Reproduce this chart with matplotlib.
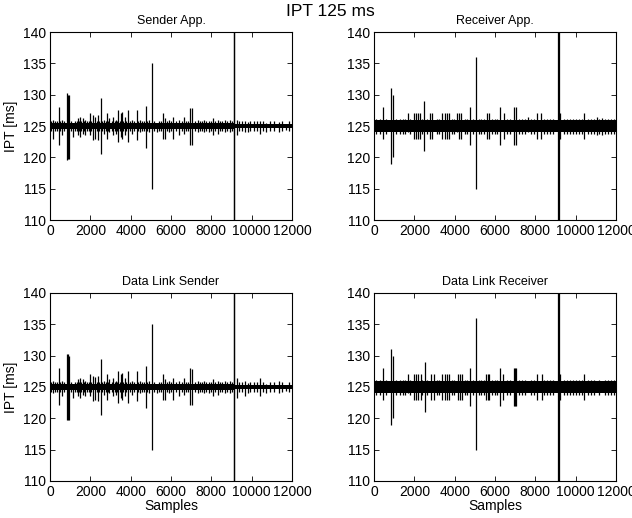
import matplotlib
matplotlib.use("Agg")
import matplotlib.pyplot as plt
import numpy as np

plt.rcParams['font.family'] = ['Liberation Sans', 'DejaVu Sans']

# ---------------- data ----------------
suptitle = "IPT 125 ms"
titles = ["Sender App.", "Receiver App.", "Data Link Sender", "Data Link Receiver"]
xticks = [0, 2000, 4000, 6000, 8000, 10000, 12000]
yticks = [110, 115, 120, 125, 130, 135, 140]

# Sender App. : spikes (sample, max, min)
sender_x = [150, 430, 600, 830, 880, 940, 1160, 1400, 1500, 1620, 1750, 1980, 2150, 2250, 2380,
            2520, 2700, 2820, 2950, 3140, 3260, 3390, 3500, 3560, 3700, 3880, 4050, 4300, 4450,
            4740, 4900, 5050, 5300, 5620, 5700, 5900, 6110, 6400, 6640, 6950, 7050, 7350, 7640,
            7900, 8100, 8350, 8700, 8950, 9120, 9140, 9250, 9670, 9800, 10410, 10700, 11370, 11700]
sender_hi = [126.0, 128.0, 126.0, 130.2, 130.0, 130.0, 125.5, 126.3, 126.5, 126.3, 126.0, 127.0, 126.8,
             126.5, 126.8, 129.5, 126.0, 127.0, 126.2, 126.5, 126.0, 127.5, 127.0, 127.3, 126.5, 127.5,
             126.0, 127.5, 126.0, 128.2, 126.0, 135.0, 125.5, 127.0, 126.3, 126.0, 126.5, 126.0, 126.5,
             127.8, 127.8, 126.0, 126.0, 125.8, 126.3, 126.0, 126.0, 126.0, 190.0, 190.0, 126.0, 125.8,
             125.6, 125.8, 125.5, 125.6, 125.3]
sender_lo = [123.0, 122.0, 123.5, 119.5, 119.7, 119.7, 123.2, 123.6, 123.2, 123.8, 123.6, 123.5, 122.7,
             123.0, 122.7, 120.5, 123.8, 123.0, 124.0, 123.5, 123.8, 122.5, 123.2, 123.0, 123.5, 122.5,
             123.8, 122.8, 124.0, 121.5, 124.0, 115.0, 124.0, 123.0, 123.0, 124.0, 123.0, 123.5, 123.8,
             122.0, 122.0, 124.0, 124.0, 124.0, 123.5, 123.8, 124.0, 124.0, 60.0, 60.0, 123.5, 124.0,
             124.0, 123.8, 124.0, 124.0, 124.3]

# Data Link Sender
dls_x = [150, 430, 600, 830, 880, 940, 1160, 1400, 1500, 1620, 1750, 1980, 2150, 2250, 2380,
         2520, 2700, 2820, 2950, 3140, 3260, 3390, 3500, 3560, 3700, 3880, 4050, 4300, 4450,
         4740, 4900, 5050, 5300, 5620, 5700, 5900, 6110, 6400, 6640, 6950, 7050, 7350, 7640,
         7900, 8100, 8350, 8700, 8950, 9120, 9140, 9250, 9670, 9800, 10410, 10700, 11370, 11700]
dls_hi = [126.0, 128.0, 126.0, 130.3, 130.2, 130.0, 125.5, 126.3, 126.5, 126.3, 126.0, 127.0, 126.8,
          126.6, 126.8, 129.5, 126.0, 127.0, 126.2, 126.5, 126.0, 127.6, 127.0, 127.3, 126.5, 127.5,
          126.0, 127.5, 126.0, 128.3, 126.0, 135.0, 125.5, 127.0, 126.3, 126.0, 126.5, 126.0, 126.5,
          128.0, 127.8, 126.0, 126.0, 125.8, 126.3, 126.0, 126.0, 126.0, 190.0, 190.0, 126.5, 126.0,
          125.6, 126.5, 125.5, 126.0, 125.3]
dls_lo = [124.0, 122.2, 123.5, 119.7, 119.8, 119.8, 123.2, 123.6, 123.2, 123.8, 123.6, 123.5, 122.7,
          123.0, 122.7, 120.5, 123.8, 123.0, 124.0, 123.5, 123.8, 122.5, 123.2, 123.0, 123.5, 122.5,
          123.8, 122.8, 124.0, 121.6, 124.0, 115.0, 124.0, 123.0, 123.0, 124.0, 123.0, 123.5, 123.8,
          122.2, 122.2, 124.0, 124.0, 124.0, 123.5, 123.8, 124.0, 124.0, 60.0, 60.0, 123.2, 123.5,
          124.0, 123.5, 124.0, 124.0, 124.3]

# small jitter around the sender baseline (sample positions)
sender_fuzz_x = [50, 250, 330, 520, 700, 1050, 1250, 1330, 1450, 1560, 1680, 1850, 1920, 2050, 2320,
                 2450, 2600, 2760, 2880, 3050, 3200, 3320, 3450, 3620, 3780, 3950, 4150, 4380, 4550,
                 4650, 4820, 5150, 5400, 5500, 5800, 6000, 6250, 6550, 6750, 6850, 7200, 7450, 7550,
                 7750, 8000, 8200, 8450, 8550, 8800, 9000, 9350, 9500, 9900, 10100, 10250, 10550,
                 10900, 11100, 11500, 11850]
sender_fuzz_hi = 125.8
sender_fuzz_lo = 124.2

# Receiver App.
receiver_x = [430, 843, 925, 1670, 1980, 2080, 2180, 2280, 2500, 2780, 2900, 3350, 3500, 3600, 3700,
              4100, 4200, 4300, 4760, 5050, 5600, 5700, 6250, 6450, 6950, 7050, 7650, 8070, 8280,
              9130, 9150, 9220, 10430, 11040, 11300]
receiver_hi = [128, 131, 130, 127, 127, 127, 127, 127, 129, 127, 127, 127, 127, 127, 127,
               127, 127, 127, 128, 136, 127, 127, 128, 127, 128, 128, 126.5, 127, 127,
               190, 190, 127, 127, 126.5, 126.3]
receiver_lo = [123, 119, 120, 124, 123, 123, 123, 123, 121, 123, 123, 123, 123, 123, 123,
               124, 123, 123, 122, 115, 123, 123, 122, 123, 122, 122, 124, 123, 123,
               60, 60, 123, 123, 123.5, 123.5]

# Data Link Receiver
dlr_x = [430, 843, 940, 1670, 1980, 2080, 2200, 2330, 2530, 2830, 2980, 3390, 3500, 3620, 3740,
         4150, 4250, 4350, 4760, 5040, 5550, 5640, 5720, 6250, 6410, 6930, 7000, 7060, 8070, 8310,
         9130, 9150, 9220, 10430]
dlr_hi = [128, 131, 130, 127, 127, 127, 127, 127, 129, 127, 127, 127, 127, 127, 127,
          127, 127, 127, 128, 136, 127, 127, 127, 128, 127, 128, 128, 128, 127, 127,
          190, 190, 127, 127]
dlr_lo = [123, 119, 120, 124, 123, 123, 123, 123, 121, 123, 123, 123, 123, 123, 123,
          123, 123, 123, 122, 115, 123, 123, 123, 122, 123, 122, 122, 122, 123, 123,
          60, 60, 123, 123]

# receiver baseline jitter (down-strokes below the band)
recv_fuzz_x = [100, 300, 600, 1100, 1300, 1450, 1550, 1800, 2400, 2650, 3100, 3200, 3850, 3950, 4500,
               4600, 4900, 5200, 5300, 5450, 5850, 6000, 6100, 6600, 6750, 7200, 7350, 7500, 7800,
               7950, 8450, 8600, 8750, 8900, 9400, 9550, 9700, 9850, 10000, 10150, 10300, 10600,
               10750, 10900, 11150, 11450, 11600, 11750, 11900]
recv_fuzz_hi = 126.1
recv_fuzz_lo = 123.7

# baseline bands: (x breakpoints, lower, upper)
sender_band_x = [0, 9100, 9100, 12000]
sender_band_lo = [124.5, 124.5, 124.65, 124.65]
sender_band_hi = [125.45, 125.45, 125.3, 125.3]
recv_band_x = [0, 12000]
recv_band_lo = [124.0, 124.0]
recv_band_hi = [126.0, 126.0]

# ---------------- plotting ----------------
fig = plt.figure(figsize=(6.32, 5.18), dpi=100)
positions = [
    [50/632, 1-220/518, 242/632, 188/518],
    [374/632, 1-220/518, 242/632, 188/518],
    [50/632, 1-481/518, 242/632, 188/518],
    [374/632, 1-481/518, 242/632, 188/518],
]

series = [
    (sender_x, sender_hi, sender_lo, sender_fuzz_x, sender_fuzz_hi, sender_fuzz_lo,
     sender_band_x, sender_band_lo, sender_band_hi),
    (receiver_x, receiver_hi, receiver_lo, recv_fuzz_x, recv_fuzz_hi, recv_fuzz_lo,
     recv_band_x, recv_band_lo, recv_band_hi),
    (dls_x, dls_hi, dls_lo, sender_fuzz_x, sender_fuzz_hi, sender_fuzz_lo,
     sender_band_x, sender_band_lo, sender_band_hi),
    (dlr_x, dlr_hi, dlr_lo, recv_fuzz_x, recv_fuzz_hi, recv_fuzz_lo,
     recv_band_x, recv_band_lo, recv_band_hi),
]

for i, (pos, title, s) in enumerate(zip(positions, titles, series)):
    sx, shi, slo, fx, fhi, flo, bx, blo, bhi = s
    ax = fig.add_axes(pos)
    ax.fill_between(bx, blo, bhi, color='black', linewidth=0)
    ax.vlines(fx, flo, fhi, color='black', linewidth=0.9)
    ax.vlines(sx, slo, shi, color='black', linewidth=0.9)
    ax.set_xlim(0, 12000)
    ax.set_ylim(110, 140)
    ax.set_xticks(xticks)
    ax.set_yticks(yticks)
    ax.tick_params(direction='in', top=True, right=True, length=3.5, width=0.6,
                   labelsize=10, pad=3, colors='black')
    for sp in ax.spines.values():
        sp.set_linewidth(0.8)
        sp.set_color('black')
    ax.set_title(title, fontsize=9, pad=6)
    if i % 2 == 0:
        ax.set_ylabel("IPT [ms]", fontsize=10, labelpad=3)
    if i >= 2:
        ax.set_xlabel("Samples", fontsize=10, labelpad=0)

fig.text(330/632, 1-12/518, suptitle, ha='center', va='center', fontsize=12.5)
fig.savefig("out.png", dpi=100)
